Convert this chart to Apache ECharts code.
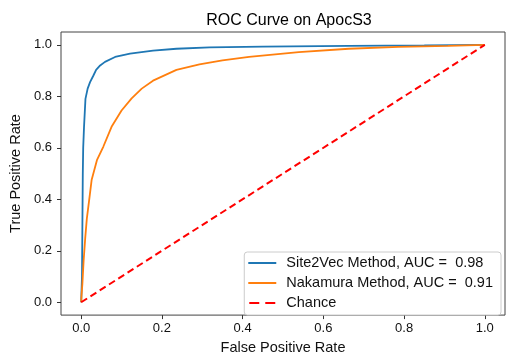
<!DOCTYPE html>
<html><head><meta charset="utf-8">
<script src="https://cdn.jsdelivr.net/npm/echarts@6/dist/echarts.min.js"></script>
<style>html,body{margin:0;padding:0;background:#fff}#c{width:508px;height:360px}</style>
</head><body><div id="c"></div>
<script>
const titleText = "ROC Curve on ApocS3";
const xName = "False Positive Rate";
const yName = "True Positive Rate";
const tickValues = [0, 0.2, 0.4, 0.6, 0.8, 1.0];

const site2vecName = "Site2Vec Method, AUC =  0.98";
const site2vecFpr = [0, 0.002, 0.003, 0.004, 0.005, 0.007, 0.0106, 0.016, 0.022, 0.03, 0.037, 0.047, 0.059, 0.084, 0.121, 0.178, 0.236, 0.318, 0.45, 0.663, 0.85, 1];
const site2vecTpr = [0, 0.1, 0.3, 0.5, 0.6, 0.68, 0.79, 0.83, 0.855, 0.88, 0.903, 0.92, 0.934, 0.953, 0.966, 0.978, 0.985, 0.99, 0.993, 0.996, 0.998, 1];

const nakamuraName = "Nakamura Method, AUC =  0.91";
const nakamuraFpr = [0, 0.001, 0.003, 0.006, 0.01, 0.014, 0.02, 0.026, 0.039, 0.055, 0.076, 0.1, 0.125, 0.15, 0.178, 0.236, 0.293, 0.35, 0.416, 0.539, 0.663, 0.786, 0.909, 1];
const nakamuraTpr = [0, 0.03, 0.072, 0.16, 0.249, 0.325, 0.40, 0.476, 0.552, 0.605, 0.684, 0.745, 0.792, 0.83, 0.861, 0.903, 0.924, 0.94, 0.953, 0.972, 0.985, 0.992, 0.996, 1];

const chanceName = "Chance";
const chanceX = [0, 1];
const chanceY = [0, 1];

const zip = (a, b) => a.map((v, i) => [v, b[i]]);
const font = "'Liberation Sans', Arial, sans-serif";

const chart = echarts.init(document.getElementById('c'), null, {renderer: 'canvas'});
const axisCommon = {
  type: 'value', min: -0.05, max: 1.05,
  splitLine: {show: false},
  axisLine: {show: false, onZero: false},
  axisTick: {show: true, inside: false, length: 4, lineStyle: {color: '#333', width: 1}, customValues: tickValues},
  axisLabel: {color: '#111', fontSize: 13, fontFamily: font, customValues: tickValues, formatter: v => v.toFixed(1)},
  nameLocation: 'middle',
  nameTextStyle: {color: '#111', fontSize: 14.5, fontFamily: font}
};
chart.setOption({
  animation: false,
  backgroundColor: '#fff',
  title: {text: titleText, left: 284, textAlign: 'center', top: 8, textStyle: {fontSize: 16, fontWeight: 'normal', color: '#000', fontFamily: font}},
  grid: {left: 61, right: 3, top: 32, bottom: 38, show: true, borderColor: '#444', borderWidth: 1, backgroundColor: 'transparent'},
  xAxis: Object.assign({}, axisCommon, {name: xName, nameGap: 19, axisLabel: Object.assign({}, axisCommon.axisLabel, {margin: 7})}),
  yAxis: Object.assign({}, axisCommon, {name: yName, nameGap: 32, axisLabel: Object.assign({}, axisCommon.axisLabel, {margin: 9})}),
  legend: {
    orient: 'vertical', right: 7, bottom: 45,
    data: [
      {name: site2vecName, icon: 'rect'},
      {name: nakamuraName, icon: 'rect'},
      {name: chanceName, icon: 'path://M0,0H10V2H0Z M16,0H26V2H16Z'}
    ],
    backgroundColor: '#fff', borderColor: '#ccc', borderWidth: 1, borderRadius: 3,
    padding: [3, 8, 4, 4], itemGap: 4, itemWidth: 28, itemHeight: 2,
    textStyle: {fontSize: 14.5, lineHeight: 16, color: '#111', fontFamily: font, padding: [0, 0, 0, 5]}
  },
  series: [
    {name: site2vecName, type: 'line', data: zip(site2vecFpr, site2vecTpr), showSymbol: false, symbol: 'none', lineStyle: {color: '#1f77b4', width: 1.8}, itemStyle: {color: '#1f77b4'}},
    {name: nakamuraName, type: 'line', data: zip(nakamuraFpr, nakamuraTpr), showSymbol: false, symbol: 'none', lineStyle: {color: '#ff7f0e', width: 1.8}, itemStyle: {color: '#ff7f0e'}},
    {name: chanceName, type: 'line', data: zip(chanceX, chanceY), showSymbol: false, symbol: 'none', lineStyle: {color: '#ff0000', width: 2, type: [7, 4]}, itemStyle: {color: '#ff0000'}}
  ]
});
</script></body></html>
